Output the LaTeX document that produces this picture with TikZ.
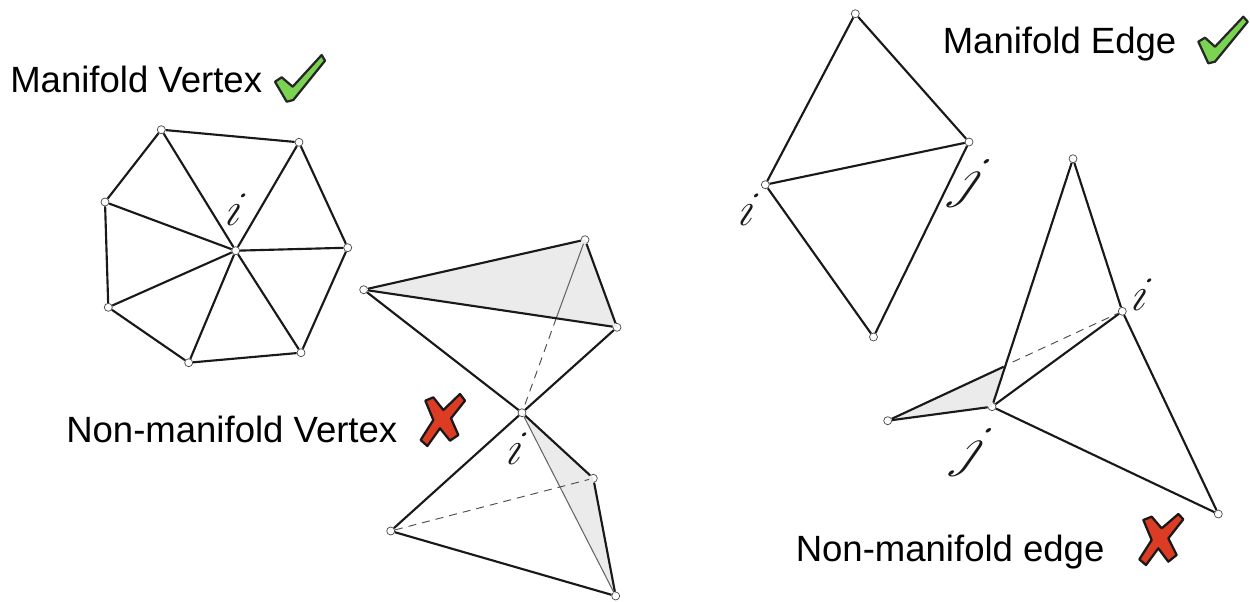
\documentclass[tikz,border=0pt]{standalone}
\usepackage{graphicx}
\usepackage{fontspec}
\setmainfont{Liberation Sans}
\newcommand{\letteri}{\scalebox{1.45}{$i$}}
\newcommand{\letterj}{\scalebox{1.7}{$j$}}
\begin{document}
\begin{tikzpicture}[x=0.75pt,y=-0.75pt,
  vtx/.style={circle,draw=black!70,fill=white,inner sep=0pt,minimum size=6pt,line width=.55pt},
  edge/.style={line width=1.6pt,black!90},
  thinline/.style={line width=.8pt,black!60},
  dashline/.style={line width=.7pt,black!70,dash pattern=on 6pt off 4.5pt},
  face/.style={fill=black!8,draw=none},
  title/.style={anchor=base west,inner sep=0pt,font=\fontsize{27.4}{30}\selectfont,text=black},
  idx/.style={inner sep=0pt,transform shape,xslant=.3,text=black!90},
  jdx/.style={inner sep=0pt,transform shape,xslant=.45,text=black!90},
  okmark/.style={fill=okgreen,draw=black!85,line width=1.7pt,line join=round},
  nomark/.style={fill=nored,draw=black!90,line width=1.7pt,line join=round}]
\definecolor{okgreen}{HTML}{7AD452}
\definecolor{nored}{HTML}{DC3B24}
\useasboundingbox (0,0) rectangle (1250,601);
% Vertices: manifold vertex fan
\node[vtx] (c) at (235.7,250.7) {};
\node[vtx] (p1) at (161.3,129.7) {};
\node[vtx] (p2) at (299,142.3) {};
\node[vtx] (p3) at (347.7,247.7) {};
\node[vtx] (p4) at (301,352.7) {};
\node[vtx] (p5) at (188.7,362.7) {};
\node[vtx] (p6) at (108.3,307.3) {};
\node[vtx] (p7) at (105,202) {};
% Non-manifold vertex
\node[vtx] (A) at (363.7,289.7) {};
\node[vtx] (B) at (585,239.7) {};
\node[vtx] (C) at (617,327.3) {};
\node[vtx] (D) at (522,412.7) {};
\node[vtx] (E) at (593.3,478.3) {};
\node[vtx] (F) at (390.7,531) {};
\node[vtx] (G) at (615.7,596) {};
\coordinate (X) at (556.3,318);
% Manifold edge
\node[vtx] (T) at (855.3,13.7) {};
\node[vtx] (J) at (969,142) {};
\node[vtx] (I) at (765.3,184.7) {};
\node[vtx] (U) at (873.5,337) {};
% Non-manifold edge
\node[vtx] (t2) at (1073,158.7) {};
\node[vtx] (i2) at (1122.3,311.3) {};
\node[vtx] (j2) at (992,406.7) {};
\node[vtx] (l2) at (887.7,420.7) {};
\node[vtx] (r2) at (1218.3,514) {};
\coordinate (y2) at (1003.7,366.7);
\coordinate (z2) at (1012.7,362);
% shaded faces
\fill[face] (A.center) -- (B.center) -- (C.center) -- cycle;
\fill[face] (D.center) -- (E.center) -- (G.center) -- cycle;
\fill[face] (l2.center) -- (y2) -- (j2.center) -- cycle;
% edges
\foreach \a in {p1,p2,p3,p4,p5,p6,p7} \draw[edge] (c) -- (\a);
\draw[edge] (p1) -- (p2);
\draw[edge] (p2) -- (p3);
\draw[edge] (p3) -- (p4);
\draw[edge] (p4) -- (p5);
\draw[edge] (p5) -- (p6);
\draw[edge] (p6) -- (p7);
\draw[edge] (p7) -- (p1);
\draw[thinline] (B) -- (X);
\draw[dashline] (X) -- (D);
\draw[edge] (A) -- (B);
\draw[edge] (B) -- (C);
\draw[edge] (A) -- (C);
\draw[edge] (A) -- (D);
\draw[edge] (C) -- (D);
\draw[thinline] (D) -- (G);
\draw[dashline] (F) -- (E);
\draw[edge] (D) -- (E);
\draw[edge] (E) -- (G);
\draw[edge] (D) -- (F);
\draw[edge] (F) -- (G);
\draw[edge] (I) -- (T);
\draw[edge] (T) -- (J);
\draw[edge] (I) -- (J);
\draw[edge] (I) -- (U);
\draw[edge] (J) -- (U);
\draw[edge] (t2) -- (i2);
\draw[edge] (t2) -- (j2);
\draw[edge] (i2) -- (j2);
\draw[edge] (i2) -- (r2);
\draw[edge] (j2) -- (r2);
\draw[edge] (l2) -- (j2);
\draw[edge] (l2) -- (y2);
\draw[dashline] (z2) -- (i2);
% titles
\node[title] (t1) at (10,92) {Manifold Vertex};
\node[title] (t3) at (66,442) {Non-manifold Vertex};
\node[title] (t4) at (942.5,53) {Manifold Edge};
\node[title] (t5) at (795.5,561) {Non-manifold edge};
% index letters
\node[idx,font=\fontsize{24.88}{26}\selectfont] (li1) at (236,210) {\letteri};
\node[idx,font=\fontsize{24.88}{26}\selectfont] (li2) at (517,449) {\letteri};
\node[idx,font=\fontsize{24.88}{26}\selectfont] (li3) at (749,210) {\letteri};
\node[idx,font=\fontsize{24.88}{26}\selectfont] (li4) at (1142,295) {\letteri};
\node[jdx,font=\fontsize{24.88}{26}\selectfont] (lj1) at (970,183) {\letterj};
\node[jdx,font=\fontsize{24.88}{26}\selectfont] (lj2) at (972,452) {\letterj};
% check marks
\draw[okmark] (275,81.7) -- (281.7,77.3) -- (292.7,86.7) -- (321.7,55) -- (325,60.7) -- (293.3,100) -- (286.7,101.7) -- cycle;
\draw[okmark] (1198.3,41.7) -- (1205,37.7) -- (1215,46.7) -- (1243.3,16.7) -- (1247.7,21.7) -- (1215,61.7) -- (1208.3,63.3) -- cycle;
% crosses
\begin{scope}[shift={(350,230)},scale=0.33333]
\draw[nomark] (226,512) -- (250,502) -- (280,540) -- (330,492) -- (345,512) -- (303,565) -- (325,615) -- (300,632) -- (270,595) -- (232,648) -- (212,630) -- (250,570) -- cycle;
\end{scope}
\begin{scope}[shift={(860,290)},scale=0.33333]
\draw[nomark] (850,690) -- (875,680) -- (905,715) -- (955,672) -- (970,688) -- (925,745) -- (950,795) -- (925,815) -- (895,775) -- (858,825) -- (838,808) -- (875,750) -- cycle;
\end{scope}
\end{tikzpicture}
\end{document}
